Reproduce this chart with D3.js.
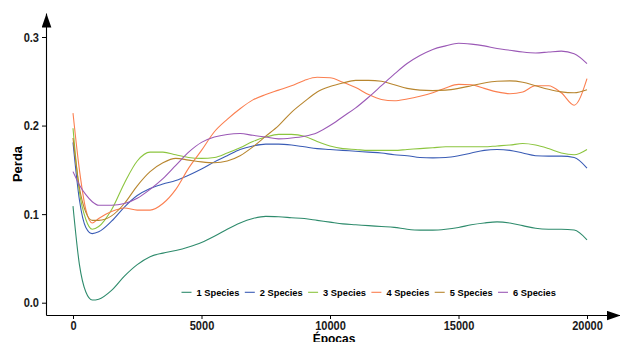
<!DOCTYPE html>
<html>
<head>
<meta charset="utf-8">
<script src="https://cdn.jsdelivr.net/npm/d3@7"></script>
<style>
html,body{margin:0;padding:0;background:#fff;}
svg{display:block;font-family:"Liberation Sans",Arial,sans-serif;}
</style>
</head>
<body>
<svg id="chart" width="620" height="342"></svg>
<script>
const epochs = [0,250,500,750,1000,1500,2000,2500,3000,3500,4000,4500,5000,5500,6000,6500,7000,7500,8000,8500,9000,9500,10000,10500,11000,11500,12000,12500,13000,13500,14000,14500,15000,15500,16000,16500,17000,17500,18000,18500,19000,19500,20000];
const seriesNames = ["1 Species","2 Species","3 Species","4 Species","5 Species","6 Species"];
const seriesColors = ["#2e8b6c","#3a5cb5","#8cc53f","#fb7f50","#b8862f","#9b59b6"];
const s1 = [0.109,0.043,0.012,0.003,0.004,0.014,0.030,0.043,0.052,0.056,0.059,0.063,0.068,0.075,0.083,0.090,0.095,0.0975,0.097,0.096,0.095,0.093,0.091,0.089,0.088,0.087,0.086,0.085,0.083,0.082,0.082,0.083,0.085,0.088,0.090,0.0913,0.090,0.087,0.084,0.083,0.083,0.082,0.071];
const s2 = [0.181,0.116,0.085,0.078,0.080,0.092,0.108,0.121,0.129,0.134,0.138,0.144,0.151,0.159,0.166,0.173,0.177,0.179,0.179,0.178,0.176,0.174,0.173,0.172,0.171,0.170,0.169,0.167,0.166,0.164,0.1635,0.164,0.166,0.169,0.172,0.173,0.172,0.169,0.166,0.1655,0.1655,0.164,0.152];
const s3 = [0.197,0.125,0.094,0.083,0.086,0.105,0.135,0.160,0.170,0.170,0.167,0.164,0.163,0.164,0.169,0.175,0.182,0.187,0.190,0.190,0.188,0.182,0.177,0.174,0.173,0.172,0.172,0.172,0.173,0.174,0.175,0.176,0.176,0.176,0.176,0.177,0.178,0.1797,0.178,0.174,0.169,0.167,0.173];
const s4 = [0.214,0.150,0.105,0.090,0.095,0.103,0.107,0.1045,0.1045,0.112,0.128,0.152,0.172,0.193,0.207,0.219,0.229,0.235,0.240,0.245,0.251,0.2545,0.254,0.249,0.243,0.235,0.2295,0.228,0.230,0.233,0.237,0.2425,0.2465,0.246,0.242,0.238,0.236,0.238,0.245,0.245,0.237,0.223,0.253];
const s5 = [0.186,0.130,0.102,0.093,0.093,0.098,0.112,0.132,0.148,0.158,0.163,0.161,0.159,0.158,0.160,0.166,0.176,0.188,0.200,0.215,0.227,0.238,0.244,0.248,0.251,0.251,0.250,0.246,0.242,0.240,0.2395,0.240,0.242,0.245,0.248,0.250,0.2505,0.249,0.245,0.241,0.238,0.237,0.2405];
const s6 = [0.148,0.133,0.122,0.114,0.110,0.110,0.112,0.118,0.128,0.140,0.155,0.170,0.181,0.187,0.190,0.191,0.189,0.187,0.185,0.186,0.188,0.192,0.200,0.210,0.220,0.232,0.245,0.258,0.270,0.279,0.286,0.290,0.293,0.292,0.290,0.287,0.285,0.283,0.282,0.283,0.284,0.281,0.270];
const seriesValues = [s1,s2,s3,s4,s5,s6];
const xTicks = [0,5000,10000,15000,20000];
const yTicks = [0,0.1,0.2,0.3];
const yTickLabels = ["0.0","0.1","0.2","0.3"];
const xTitle = "Épocas";
const yTitle = "Perda";

const svg = d3.select("#chart");

const xb = d3.scaleLinear().domain([0,20000]).range([73,587]);
const yb = d3.scaleLinear().domain([0,0.3]).range([302.7,37]);
const xLeft = 46, xRight = 620, yBottom = 315, yTop = 13;
const x = d3.scaleLinear().domain([xb.invert(xLeft), xb.invert(xRight)]).range([xLeft, xRight]);
const y = d3.scaleLinear().domain([yb.invert(yBottom), yb.invert(yTop)]).range([yBottom, yTop]);

const defs = svg.append("defs");
defs.append("marker").attr("id","arrow")
  .attr("markerUnits","userSpaceOnUse")
  .attr("markerWidth",14).attr("markerHeight",10)
  .attr("viewBox","0 0 13 9")
  .attr("refX",13).attr("refY",4.5)
  .attr("orient","auto")
  .append("path").attr("d","M0,0L13,4.5L0,9Z").attr("fill","#000");

const line = d3.line()
  .x((d,i)=>x(epochs[i]))
  .y(d=>y(d))
  .curve(d3.curveMonotoneX);

svg.append("g").selectAll("path")
  .data(seriesValues)
  .join("path")
  .attr("d", d=>line(d))
  .attr("fill","none")
  .attr("stroke",(d,i)=>seriesColors[i])
  .attr("stroke-width",1.1);

const SX = 0.85;
const yAxis = d3.axisLeft(y).tickValues(yTicks).tickFormat((d,i)=>yTickLabels[i]).tickSizeInner(4).tickSizeOuter(0).tickPadding(3);
const gy = svg.append("g").attr("transform",`translate(${xLeft},0)`).call(yAxis);
gy.select(".domain").attr("stroke","#000").attr("stroke-width",1.1).attr("marker-end","url(#arrow)");
gy.selectAll(".tick line").attr("stroke","#000").attr("stroke-width",1);
gy.selectAll(".tick text")
  .attr("font-size",13).attr("font-weight","bold").attr("fill","#1a1a1a")
  .attr("font-family","'Liberation Sans',Arial,sans-serif")
  .attr("x", -7/SX)
  .attr("transform",`scale(${SX},1)`);

const xAxis = d3.axisBottom(x).tickValues(xTicks).tickFormat(d3.format("d")).tickSizeInner(4).tickSizeOuter(0).tickPadding(2);
const gx = svg.append("g").attr("transform",`translate(0,${yBottom})`).call(xAxis);
gx.select(".domain").attr("stroke","#000").attr("stroke-width",1.1).attr("marker-end","url(#arrow)");
gx.selectAll(".tick line").attr("stroke","#000").attr("stroke-width",1);
gx.selectAll(".tick text")
  .attr("font-size",13).attr("font-weight","bold").attr("fill","#1a1a1a")
  .attr("font-family","'Liberation Sans',Arial,sans-serif")
  .attr("x",0)
  .attr("transform",`scale(${SX},1)`);

svg.append("text")
  .attr("transform",`translate(22,164) rotate(-90)`)
  .attr("text-anchor","middle")
  .attr("font-size",13).attr("font-weight","bold").attr("fill","#000")
  .text(yTitle);
svg.append("text")
  .attr("x",334).attr("y",343)
  .attr("text-anchor","middle")
  .attr("font-size",12).attr("font-weight","bold").attr("fill","#000")
  .text(xTitle);

const legend = svg.append("g").attr("transform","translate(181.5,292.3)");
const items = legend.selectAll("g").data(seriesNames).join("g")
  .attr("transform",(d,i)=>`translate(${i*63.3},0)`);
items.append("line").attr("x1",0).attr("x2",10).attr("y1",0).attr("y2",0)
  .attr("stroke",(d,i)=>seriesColors[i]).attr("stroke-width",1.1);
items.append("text").attr("x",15).attr("y",3.3)
  .attr("font-size",9.3).attr("font-weight","bold").attr("fill","#000")
  .text(d=>d);
</script>
</body>
</html>
